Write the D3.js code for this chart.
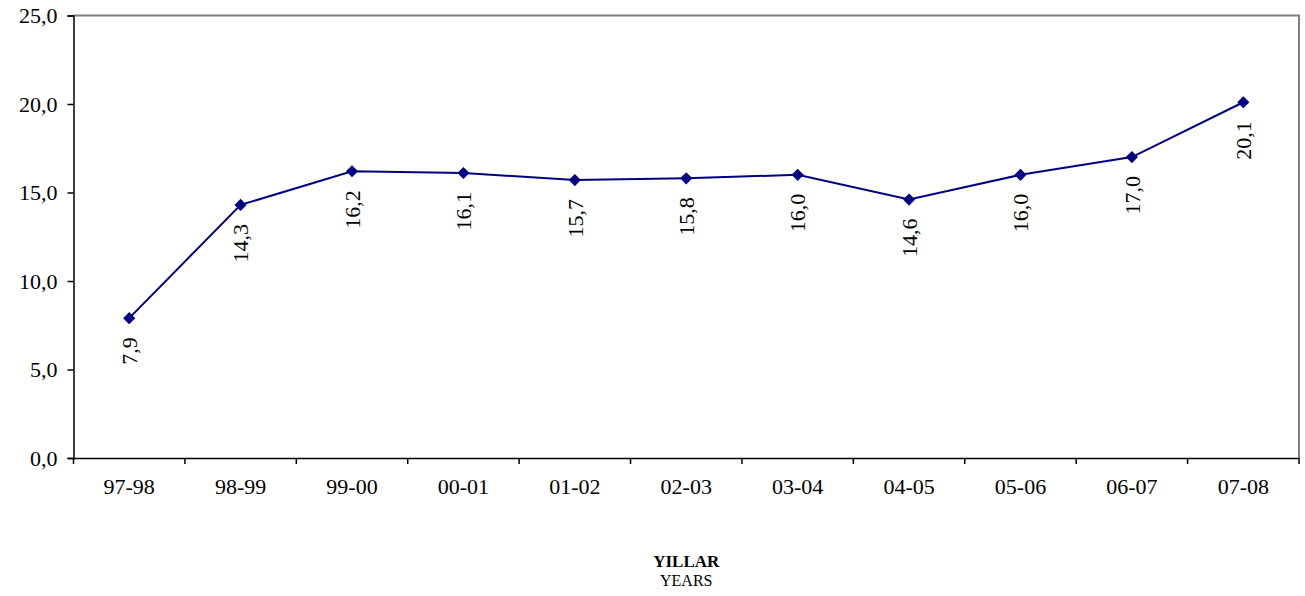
<!DOCTYPE html>
<html>
<head>
<meta charset="utf-8">
<script src="https://cdn.jsdelivr.net/npm/d3@7"></script>
<style>
  body { margin: 0; background: #fff; }
  text { font-family: "Liberation Serif", "Times New Roman", serif; fill: #000; }
</style>
</head>
<body>
<script>
// data
var years = ["97-98", "98-99", "99-00", "00-01", "01-02", "02-03", "03-04", "04-05", "05-06", "06-07", "07-08"];
var values = [7.9, 14.3, 16.2, 16.1, 15.7, 15.8, 16.0, 14.6, 16.0, 17.0, 20.1];
var yTicks = [0, 5, 10, 15, 20, 25];
var titleTr = "YILLAR";
var titleEn = "YEARS";

// set the dimensions and margins of the graph
var margin = {top: 15.5, right: 6, bottom: 138, left: 73.5},
    width = 1305 - margin.left - margin.right,
    height = 596 - margin.top - margin.bottom;

var fmt = function(d) { return d3.format(".1f")(d).replace(".", ","); };

var x = d3.scaleBand().domain(years).range([0, width]);
var y = d3.scaleLinear().domain([0, 25]).range([height, 0]);

var svg = d3.select("body").append("svg")
    .attr("width", 1305)
    .attr("height", 596)
    .append("g")
    .attr("transform", "translate(" + margin.left + "," + margin.top + ")");

// gray frame on top and right
svg.append("path")
    .attr("d", "M0,0H" + width + "V" + height)
    .attr("fill", "none")
    .attr("stroke", "#808080")
    .attr("stroke-width", 2);

// Y axis
var yAxis = svg.append("g")
    .call(d3.axisLeft(y).tickValues(yTicks).tickFormat(fmt).tickSize(6).tickPadding(10));
yAxis.select(".domain").attr("stroke", "#000").attr("stroke-width", 1.5);
yAxis.selectAll(".tick line").attr("stroke", "#000").attr("stroke-width", 1.5);
yAxis.selectAll("text").style("font-size", "22px").style("font-family", "Liberation Serif");

// X axis: labels centered in bands, ticks at band edges
var xAxis = svg.append("g")
    .attr("transform", "translate(0," + height + ")")
    .call(d3.axisBottom(x).tickSize(0).tickPadding(20));
xAxis.select(".domain").attr("stroke", "#000").attr("stroke-width", 1.5);
xAxis.selectAll("text").style("font-size", "22px").style("font-family", "Liberation Serif");

var edges = years.map(function(d) { return x(d); }).concat([width]);
xAxis.selectAll(".edge")
    .data(edges)
    .enter().append("line")
    .attr("class", "edge")
    .attr("x1", function(d) { return d; })
    .attr("x2", function(d) { return d; })
    .attr("y1", 0)
    .attr("y2", 6)
    .attr("stroke", "#000")
    .attr("stroke-width", 1.5);

var cx = function(d, i) { return x(years[i]) + x.bandwidth() / 2; };

// line
var line = d3.line()
    .x(function(d, i) { return cx(d, i); })
    .y(function(d) { return y(d); });

svg.append("path")
    .datum(values)
    .attr("d", line)
    .attr("fill", "none")
    .attr("stroke", "#000080")
    .attr("stroke-width", 2);

// diamond markers
svg.selectAll(".marker")
    .data(values)
    .enter().append("path")
    .attr("class", "marker")
    .attr("d", d3.symbol().type(d3.symbolSquare).size(74))
    .attr("transform", function(d, i) { return "translate(" + cx(d, i) + "," + y(d) + ") rotate(45)"; })
    .attr("fill", "#000080");

// value labels, rotated
svg.selectAll(".vlabel")
    .data(values)
    .enter().append("text")
    .attr("class", "vlabel")
    .attr("transform", function(d, i) { return "translate(" + cx(d, i) + "," + (y(d) + 19) + ") rotate(-90)"; })
    .attr("text-anchor", "end")
    .attr("dy", "0.35em")
    .style("font-size", "22px")
    .text(function(d) { return fmt(d); });

// axis title
svg.append("text")
    .attr("x", width / 2)
    .attr("y", 566.5 - margin.top)
    .attr("text-anchor", "middle")
    .style("font-size", "17px")
    .style("font-weight", "bold")
    .text(titleTr);

svg.append("text")
    .attr("x", width / 2)
    .attr("y", 586 - margin.top)
    .attr("text-anchor", "middle")
    .style("font-size", "16px")
    .text(titleEn);
</script>
</body>
</html>
